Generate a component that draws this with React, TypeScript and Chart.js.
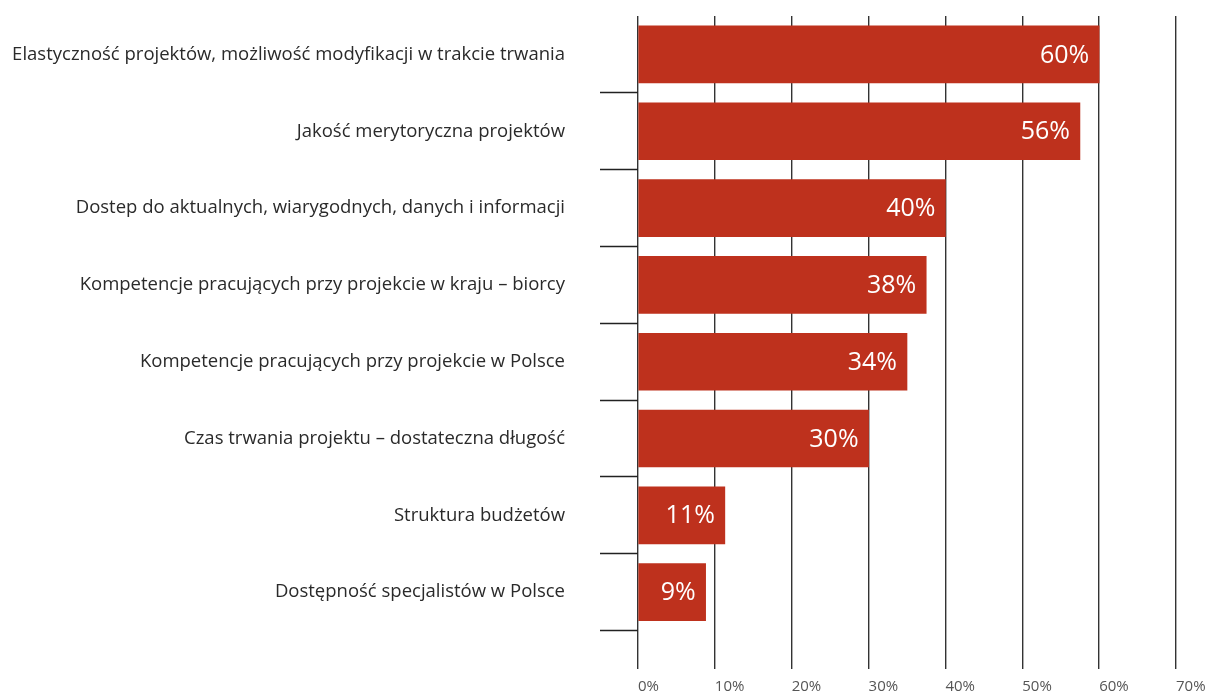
import React, { useEffect, useRef } from "react";
import { Chart, registerables } from "chart.js";

Chart.register(...registerables);

const categories = [
  "Elastyczność projektów, możliwość modyfikacji w trakcie trwania",
  "Jakość merytoryczna projektów",
  "Dostep do aktualnych, wiarygodnych, danych i informacji",
  "Kompetencje pracujących przy projekcie w kraju – biorcy",
  "Kompetencje pracujących przy projekcie w Polsce",
  "Czas trwania projektu – dostateczna długość",
  "Struktura budżetów",
  "Dostępność specjalistów w Polsce",
];
const values = [60, 57.5, 40, 37.5, 35, 30, 11.3, 8.8];
const valueLabels = ["60%", "56%", "40%", "38%", "34%", "30%", "11%", "9%"];
const xTicks = [0, 10, 20, 30, 40, 50, 60, 70];

const FONT = "'Open Sans', 'Noto Sans', sans-serif";

const valueLabelPlugin = {
  id: "valueLabels",
  afterDatasetsDraw(chart: any) {
    const ctx = chart.ctx;
    const meta = chart.getDatasetMeta(0);
    ctx.save();
    ctx.font = `25px ${FONT}`;
    ctx.fillStyle = "#ffffff";
    ctx.textAlign = "right";
    ctx.textBaseline = "middle";
    meta.data.forEach((bar: any, i: number) => {
      ctx.fillText(valueLabels[i], bar.x - 10, bar.y + 1);
    });
    ctx.restore();
  },
};

export default function App() {
  const ref = useRef<HTMLCanvasElement | null>(null);
  useEffect(() => {
    if (!ref.current) return;
    const halfTicks: number[] = [];
    for (let i = 0; i < categories.length; i++) {
      halfTicks.push(i, i + 0.5);
    }
    const chart = new Chart(ref.current, {
      type: "bar",
      data: {
        datasets: [
          {
            data: values.map((v, i) => ({ x: v, y: i })),
            backgroundColor: "#BE311D",
            borderWidth: 0,
            barThickness: 57,
          },
        ],
      },
      options: {
        indexAxis: "y",
        animation: false,
        responsive: true,
        maintainAspectRatio: false,
        layout: { padding: { top: 16, right: 31, left: 0, bottom: 0 } },
        plugins: {
          legend: { display: false },
          tooltip: { enabled: false },
        },
        scales: {
          x: {
            type: "linear",
            min: 0,
            max: 70,
            afterBuildTicks: (scale: any) => {
              scale.ticks = xTicks.map((v) => ({ value: v }));
            },
            afterFit: (scale: any) => {
              scale.height = 26;
              scale.paddingLeft = 0;
              scale.paddingRight = 0;
            },
            border: { display: false },
            grid: {
              color: "#333333",
              lineWidth: 1.4,
              drawTicks: false,
            },
            ticks: {
              align: "start",
              padding: 9,
              color: "#555555",
              font: { family: FONT, size: 15 },
              callback: (v: any) => `${v}%`,
            },
          },
          y: {
            type: "linear",
            reverse: true,
            offset: false,
            min: -0.5,
            max: 8,
            afterBuildTicks: (scale: any) => {
              scale.ticks = halfTicks.map((v) => ({ value: v }));
            },
            afterFit: (scale: any) => {
              scale.width = 638;
              scale.paddingTop = 0;
              scale.paddingBottom = 0;
            },
            border: { display: false },
            grid: {
              offset: false,
              drawOnChartArea: false,
              drawTicks: true,
              tickLength: 38,
              tickWidth: 1.4,
              tickColor: (c: any) =>
                c.tick && c.tick.value % 1 !== 0 ? "#222222" : "rgba(0,0,0,0)",
            },
            ticks: {
              autoSkip: false,
              padding: 35,
              color: "#2a2a2a",
              font: { family: FONT, size: 18.5 },
              callback: (v: any) =>
                Number.isInteger(v) && categories[v] !== undefined ? categories[v] : "",
            },
          },
        },
      },
      plugins: [valueLabelPlugin],
    });
    return () => chart.destroy();
  }, []);

  return (
    <div
      style={{
        position: "fixed",
        left: 0,
        top: 0,
        width: 1207,
        height: 695,
        background: "#ffffff",
      }}
    >
      <canvas ref={ref} />
    </div>
  );
}
